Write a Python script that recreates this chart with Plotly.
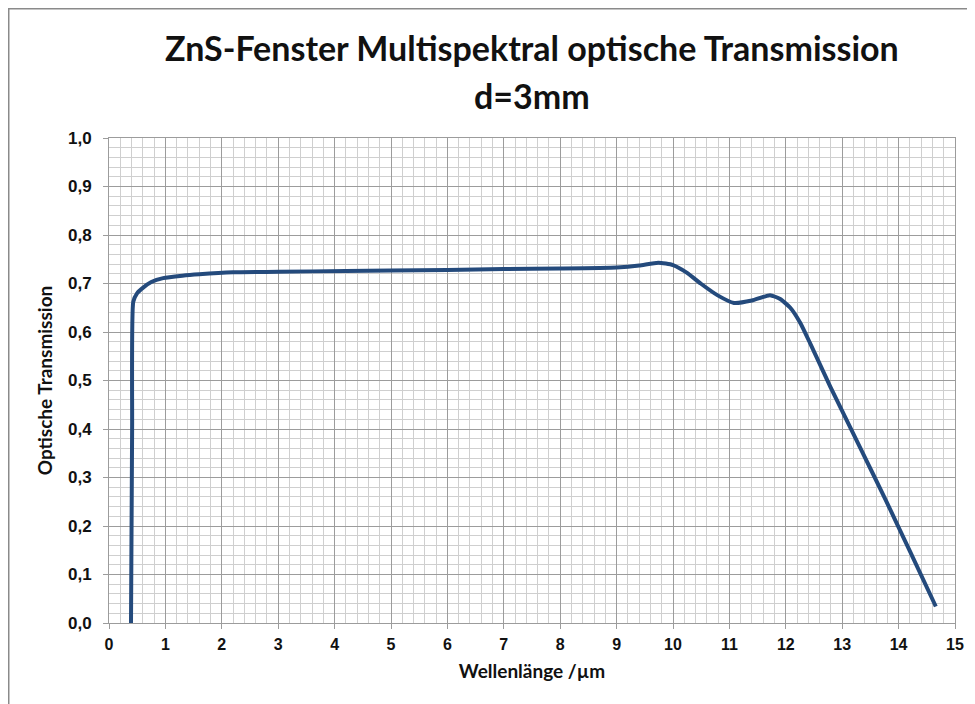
import plotly.graph_objects as go

# Wavelength (µm) and transmission
wavelength = [0.39, 0.41, 0.43, 0.50, 0.60, 0.75, 0.96, 1.3, 1.6, 2.2, 3.0, 4.2, 5.0, 6.0, 7.0,
              8.0, 9.0, 9.4, 9.74, 10.0, 10.25, 10.49, 10.8, 11.08, 11.4, 11.72, 11.9, 12.08,
              12.26, 12.43, 12.79, 13.32, 13.77, 14.2, 14.66]
transmission = [0.0, 0.40, 0.662, 0.680, 0.691, 0.703, 0.711, 0.716, 0.719, 0.723, 0.724, 0.726,
                0.727, 0.728, 0.730, 0.731, 0.733, 0.737, 0.743, 0.738, 0.722, 0.700, 0.675,
                0.660, 0.665, 0.676, 0.668, 0.650, 0.618, 0.577, 0.487, 0.361, 0.254, 0.148,
                0.034]

x_ticks = list(range(0, 16))
y_ticks = [i / 10 for i in range(0, 11)]

title_lines = ["ZnS-Fenster Multispektral optische Transmission", "d=3mm"]
x_title = "Wellenlänge /µm"
y_title = "Optische Transmission"

fig = go.Figure()
fig.add_trace(go.Scatter(
    x=wavelength, y=transmission, mode="lines",
    line=dict(color="#244A7C", width=4, shape="spline", smoothing=0.5),
    showlegend=False, hoverinfo="x+y",
))

major = "#9C9C9C"
minor = "#CFCFCF"
dark = "#111111"

# the page body adds an 8 px offset, so margins are shifted to compensate
fig.update_layout(
    width=975, height=704,
    margin=dict(l=101, r=28, t=130, b=89),
    paper_bgcolor="white", plot_bgcolor="white",
    separators=",.",
    xaxis=dict(
        range=[0, 15], tickvals=x_ticks, ticktext=[str(v) for v in x_ticks],
        showgrid=True, gridcolor=major, gridwidth=1,
        minor=dict(dtick=0.2, showgrid=True, gridcolor=minor, gridwidth=1, ticks=""),
        showline=True, linecolor=major, linewidth=1, mirror=True,
        ticks="outside", ticklen=5, tickcolor=major, ticklabelstandoff=2,
        tickfont=dict(family="Liberation Sans", size=16, color=dark, weight="bold"),
        title=dict(text=x_title, standoff=12,
                   font=dict(family="Lato", size=19, color=dark, weight="bold")),
        zeroline=False, fixedrange=True, automargin=False,
    ),
    yaxis=dict(
        range=[0, 1], tickvals=y_ticks, tickformat=".1f",
        showgrid=True, gridcolor=major, gridwidth=1,
        minor=dict(dtick=0.02, showgrid=True, gridcolor=minor, gridwidth=1, ticks=""),
        showline=True, linecolor=major, linewidth=1, mirror=True,
        ticks="outside", ticklen=5, tickcolor=major, ticklabelstandoff=8,
        tickfont=dict(family="Liberation Sans", size=17, color=dark, weight="bold"),
        title=dict(text=y_title, standoff=10,
                   font=dict(family="Lato", size=19, color=dark, weight="bold")),
        zeroline=False, fixedrange=True, automargin=False,
    ),
)

# two-line chart title
for text, ypos in zip(title_lines, [1.1856, 1.0866]):
    fig.add_annotation(text=text, xref="paper", yref="paper", x=0.5, y=ypos,
                       xanchor="center", yanchor="middle", showarrow=False,
                       font=dict(family="Lato", size=34, color=dark, weight="bold"))

# outer frame (left and top edges visible in the reference)
fig.add_shape(type="rect", xref="paper", yref="paper",
              x0=-0.1185, x1=1.2, y0=-0.4, y1=1.2665,
              line=dict(color="#8A8A8A", width=1.5), layer="below")

fig.write_html("out.html")
